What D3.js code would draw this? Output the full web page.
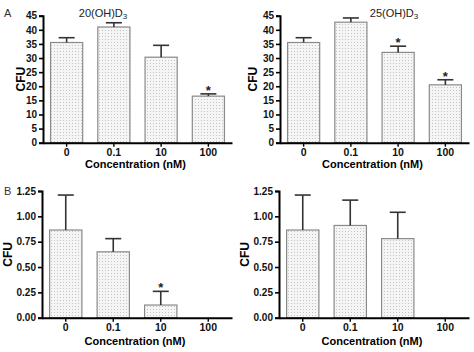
<!DOCTYPE html>
<html>
<head>
<meta charset="utf-8">
<script src="https://cdn.jsdelivr.net/npm/d3@7"></script>
<style>
  body { margin: 0; background: #fff; }
  svg { display: block; }
</style>
</head>
<body>
<div id="chart"></div>
<script>
// data
const categories = ["0", "0.1", "10", "100"];

const a20Mean = [35.5, 41.0, 30.3, 16.5];
const a20Err  = [1.7, 1.5, 4.2, 0.8];
const a20Star = [false, false, false, true];

const a25Mean = [35.5, 42.7, 32.0, 20.5];
const a25Err  = [1.7, 1.5, 2.2, 1.8];
const a25Star = [false, false, true, true];

const b20Mean = [0.865, 0.65, 0.125, 0];
const b20Err  = [0.345, 0.13, 0.135, 0];
const b20Star = [false, false, true, false];

const b25Mean = [0.865, 0.91, 0.78, 0];
const b25Err  = [0.345, 0.25, 0.26, 0];
const b25Star = [false, false, false, false];

const aTicks = [0, 5, 10, 15, 20, 25, 30, 35, 40, 45];
const bTicks = [0, 0.25, 0.5, 0.75, 1.0, 1.25];

const width = 474, height = 352;

const svg = d3.select("#chart").append("svg")
    .attr("width", width)
    .attr("height", height)
    .style("font-family", "Arial, 'Liberation Sans', sans-serif");

// dotted bar fill
const pat = svg.append("defs").append("pattern")
    .attr("id", "dots")
    .attr("patternUnits", "userSpaceOnUse")
    .attr("width", 3).attr("height", 3);
pat.append("rect").attr("width", 3).attr("height", 3).attr("fill", "#f5f5f5");
pat.append("rect").attr("width", 1).attr("height", 1).attr("fill", "#c4c4c4");

function panel(opt) {
  const g = svg.append("g");

  const x = d3.scaleBand()
      .domain(categories)
      .range([opt.left, opt.right]);
  const y = d3.scaleLinear()
      .domain([0, opt.max])
      .range([opt.bottom, opt.top]);

  const bw = x.bandwidth() * 0.68;
  const rows = categories.map((c, i) => ({c, m: opt.mean[i], e: opt.err[i], s: opt.star[i]}));

  // bars
  g.selectAll(".bar")
    .data(rows.filter(d => d.m > 0))
    .join("rect")
      .attr("class", "bar")
      .attr("x", d => x(d.c) + (x.bandwidth() - bw) / 2)
      .attr("y", d => y(d.m))
      .attr("width", bw)
      .attr("height", d => y(0) - y(d.m))
      .attr("fill", "url(#dots)")
      .attr("stroke", "#8a8a8a")
      .attr("stroke-width", 1.2);

  // error bars (upper only)
  const eb = g.selectAll(".err")
    .data(rows.filter(d => d.e > 0))
    .join("g")
      .attr("class", "err")
      .attr("stroke", "#333")
      .attr("stroke-width", 1.6);
  eb.append("line")
      .attr("x1", d => x(d.c) + x.bandwidth() / 2)
      .attr("x2", d => x(d.c) + x.bandwidth() / 2)
      .attr("y1", d => y(d.m))
      .attr("y2", d => y(d.m + d.e));
  eb.append("line")
      .attr("x1", d => x(d.c) + x.bandwidth() / 2 - 8)
      .attr("x2", d => x(d.c) + x.bandwidth() / 2 + 8)
      .attr("y1", d => y(d.m + d.e))
      .attr("y2", d => y(d.m + d.e));

  // significance stars
  g.selectAll(".star")
    .data(rows.filter(d => d.s))
    .join("text")
      .attr("class", "star")
      .attr("x", d => x(d.c) + x.bandwidth() / 2)
      .attr("y", d => y(d.m + d.e) + 1)
      .attr("text-anchor", "middle")
      .style("font-size", "13px")
      .style("font-weight", "bold")
      .attr("fill", "#222")
      .text("*");

  // y axis
  const yAxis = g.append("g")
      .attr("transform", `translate(${opt.left},0)`)
      .call(d3.axisLeft(y).tickValues(opt.ticks).tickSize(4).tickPadding(2)
        .tickFormat(opt.fmt))
      .call(a => a.select(".domain").attr("stroke-width", 2));
  yAxis.selectAll(".tick line").attr("stroke-width", 1.6);
  yAxis.selectAll(".tick text")
      .style("font-size", "10px")
      .style("font-weight", "bold")
      .attr("fill", "#111");

  // x axis
  const xAxis = g.append("g")
      .attr("transform", `translate(0,${opt.bottom})`)
      .call(d3.axisBottom(x).tickSize(4).tickSizeOuter(0).tickPadding(1.5))
      .call(a => a.select(".domain").attr("stroke-width", 2));
  xAxis.selectAll(".tick line").attr("stroke-width", 1.4);
  xAxis.selectAll(".tick text")
      .style("font-size", "10.5px")
      .style("font-weight", "bold")
      .attr("fill", "#111");

  // axis titles
  g.append("text")
      .attr("x", (opt.left + opt.right) / 2 - 2)
      .attr("y", opt.bottom + opt.xlabDy)
      .attr("text-anchor", "middle")
      .style("font-size", "11px")
      .style("font-weight", "bold")
      .text("Concentration (nM)");

  g.append("text")
      .attr("transform", `translate(${opt.ylabX},${(opt.top + opt.bottom) / 2}) rotate(-90)`)
      .attr("text-anchor", "middle")
      .attr("dy", "0.35em")
      .style("font-size", "12px")
      .style("font-weight", "bold")
      .text("CFU");

  if (opt.title) {
    const t = g.append("text")
        .attr("x", opt.titleX)
        .attr("y", 17)
        .attr("text-anchor", "middle")
        .style("font-size", "11px")
        .attr("fill", "#222");
    t.append("tspan").text(opt.title);
    t.append("tspan").attr("dy", 2).style("font-size", "8px").text("3");
  }
}

panel({mean: a20Mean, err: a20Err, star: a20Star, max: 45, ticks: aTicks, fmt: d3.format("d"),
  left: 43, right: 232, top: 15.7, bottom: 142.7, ylabX: 21, xlabDy: 25.5, title: "20(OH)D", titleX: 103});
panel({mean: a25Mean, err: a25Err, star: a25Star, max: 45, ticks: aTicks, fmt: d3.format("d"),
  left: 280, right: 469, top: 15.7, bottom: 142.7, ylabX: 253, xlabDy: 25.5, title: "25(OH)D", titleX: 394});
panel({mean: b20Mean, err: b20Err, star: b20Star, max: 1.25, ticks: bTicks, fmt: d3.format(".2f"),
  left: 42, right: 232, top: 191, bottom: 317.7, ylabX: 8, xlabDy: 27.5});
panel({mean: b25Mean, err: b25Err, star: b25Star, max: 1.25, ticks: bTicks, fmt: d3.format(".2f"),
  left: 279, right: 469, top: 191, bottom: 317.7, ylabX: 245, xlabDy: 27.5});

// panel letters
svg.append("text").attr("x", 4).attr("y", 17).style("font-size", "11px").attr("fill", "#333").text("A");
svg.append("text").attr("x", 4).attr("y", 195).style("font-size", "11px").attr("fill", "#333").text("B");
</script>
</body>
</html>
